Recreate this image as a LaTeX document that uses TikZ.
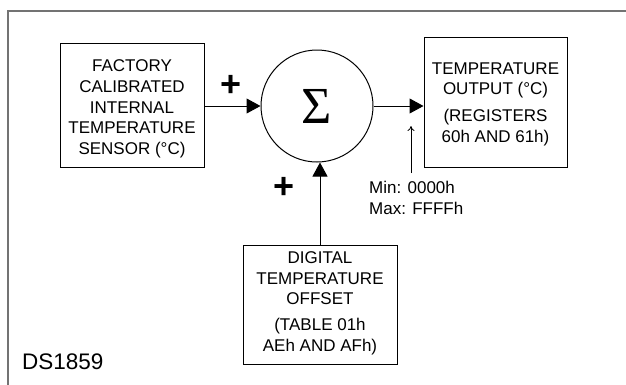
\documentclass[tikz,border=0pt]{standalone}
\usepackage{fontspec}
\setmainfont{Liberation Sans}
\newfontfamily\sigfont{Liberation Serif}
\usetikzlibrary{arrows.meta}
\definecolor{framegray}{RGB}{115,115,115}
\begin{document}
\begin{tikzpicture}[x=1pt,y=-1pt,
  box/.style={draw,line width=1pt,inner sep=0pt},
  boxtext/.style={align=center,inner sep=0pt,font=\fontsize{17}{20.8}\selectfont},
  conn/.style={line width=1pt,-{Triangle[length=14pt,width=15pt]}},
  plus/.style={font=\bfseries\fontsize{36}{36}\selectfont,inner sep=0pt},
  lbl/.style={font=\fontsize{17}{21}\selectfont,inner sep=0pt,align=left}
]
\useasboundingbox (0,0) rectangle (626,384);
\draw[framegray,line width=2pt] (8,390) -- (8,11) -- (630,11);

\node[box,minimum width=144pt,minimum height=124pt] (sensor) at (132,105) {};
\node[boxtext] (sensortext) at (132,109)
  {FACTORY\\CALIBRATED\\INTERNAL\\TEMPERATURE\\SENSOR (°C)};
\node[draw,circle,line width=1pt,minimum size=112pt,inner sep=0pt,
  font=\sigfont\fontsize{52}{52}\selectfont] (sum) at (317,106) {Σ};
\node[box,minimum width=143pt,minimum height=130pt] (out) at (495.5,102) {};
\node[boxtext] (outtext) at (495.5,104)
  {TEMPERATURE\\OUTPUT (°C)\\[5.5pt] (REGISTERS\\60h AND 61h)};
\node[box,minimum width=154pt,minimum height=119pt] (offset) at (320,304.5) {};
\node[boxtext] (offsettext) at (320,303)
  {DIGITAL\\TEMPERATURE\\OFFSET\\[4.5pt] (TABLE 01h\\AEh AND AFh)};

\draw[conn] (sum.west -| sensor.east) -- (sum.west);
\draw[conn] (sum.east) -- (sum.east -| out.west);
\draw[conn] (offset.north) -- (offset.north |- sum.south);

\node[plus] (plusa) at (231.5,86) {+};
\node[plus] (plusb) at (284,188) {+};

\coordinate (limfoot) at (411,173);
\coordinate (limtip) at (411,126);
\draw[line width=0.8pt,-{To[length=5pt,width=7pt]}] (limfoot) -- (limtip);
\node[lbl,anchor=west] (limits) at (369,198) {Min: 0000h\\Max: FFFFh};

\node[font=\fontsize{22.5}{24}\selectfont,inner sep=0pt,anchor=west] (name) at (22,362) {DS1859};
\end{tikzpicture}
\end{document}
